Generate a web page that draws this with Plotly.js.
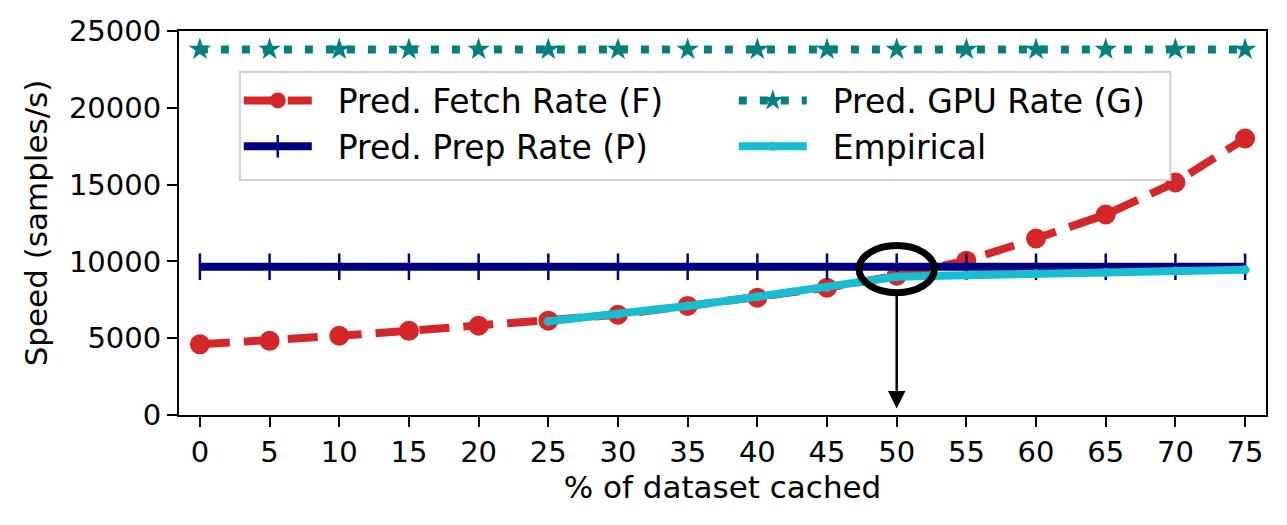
<!DOCTYPE html>
<html>
<head>
<meta charset="utf-8">
<script src="https://cdn.plot.ly/plotly-3.0.1.min.js"></script>
<style>
  html, body { margin: 0; padding: 0; background: #fff; }
  #chart { width: 1287px; height: 525px; }
</style>
</head>
<body>
<div id="chart"></div>
<script>
// data
const cached = [0, 5, 10, 15, 20, 25, 30, 35, 40, 45, 50, 55, 60, 65, 70, 75];
const fetchRate = [4600, 4830, 5160, 5480, 5810, 6140, 6530, 7100, 7640, 8290, 9070, 10050, 11490, 13050, 15140, 18000];
const prepRate = cached.map(() => 9650);
const gpuRate = cached.map(() => 23800);
const empiricalX = [25, 30, 35, 40, 45, 50, 55, 60, 65, 70, 75];
const empiricalY = [6100, 6550, 7100, 7700, 8300, 9000, 9100, 9200, 9280, 9370, 9450];
const xTicks = cached;
const yTicks = [0, 5000, 10000, 15000, 20000, 25000];

// crossover point marked in the figure
const crossX = 50;
const crossY = 9500;

const font = 'DejaVu Sans, sans-serif';
const pad = '\u00a0\u00a0'; // gap between legend line and label

const traces = [
  {
    x: cached, y: fetchRate, name: pad + 'Pred. Fetch Rate (F)', mode: 'lines+markers',
    line: { color: '#d62728', width: 8, dash: '30px,14px' },
    marker: { symbol: 'circle', size: 20, color: '#d62728' },
    legendrank: 1
  },
  {
    x: cached, y: gpuRate, name: pad + 'Pred. GPU Rate (G)', mode: 'lines+markers',
    line: { color: '#008080', width: 8, dash: '8px,13px' },
    marker: { symbol: 'star', size: 17, color: '#008080' },
    legendrank: 2
  },
  {
    x: cached, y: prepRate, name: pad + 'Pred. Prep Rate (P)', mode: 'lines+markers',
    line: { color: '#000080', width: 8 },
    marker: { symbol: 'line-ns', size: 19, line: { color: '#000080', width: 2.5 } },
    legendrank: 3
  },
  {
    x: empiricalX, y: empiricalY, name: pad + 'Empirical', mode: 'lines+markers',
    line: { color: '#17becf', width: 8 },
    marker: { symbol: 'circle', size: 9, color: '#17becf' },
    legendrank: 4
  }
];

const axisCommon = {
  showline: true, linecolor: '#000', linewidth: 2, mirror: true,
  ticks: 'outside', ticklen: 10, tickwidth: 2, tickcolor: '#000',
  showgrid: false, zeroline: false,
  tickfont: { family: font, size: 29, color: '#000' }
};

const layout = {
  width: 1287, height: 525,
  margin: { l: 179, r: 21, t: 31, b: 110 },
  paper_bgcolor: '#fff', plot_bgcolor: '#fff',
  font: { family: font, color: '#000' },
  showlegend: true,
  legend: {
    orientation: 'h', x: 0.055, y: 0.892, xanchor: 'left', yanchor: 'top',
    bgcolor: 'rgba(0,0,0,0)', borderwidth: 0,
    font: { family: font, size: 33, color: '#000' },
    itemwidth: 68, entrywidth: 412, entrywidthmode: 'pixels',
    tracegroupgap: 0, traceorder: 'normal'
  },
  xaxis: Object.assign({}, axisCommon, {
    range: [-1.5, 76.5], tickvals: xTicks, ticktext: xTicks.map(String),
    title: { text: '% of dataset cached', font: { family: font, size: 31, color: '#000' }, standoff: 6 }
  }),
  yaxis: Object.assign({}, axisCommon, {
    range: [0, 25000], tickvals: yTicks, ticktext: yTicks.map(String),
    title: { text: 'Speed (samples/s)', font: { family: font, size: 31, color: '#000' }, standoff: 12 }
  }),
  shapes: [
    // legend frame, drawn separately so it can be narrower than plotly's legend box
    {
      type: 'rect', xref: 'paper', yref: 'paper', layer: 'above',
      x0: 0.056, x1: 0.912, y0: 0.612, y1: 0.893,
      fillcolor: '#fff', line: { color: '#d0d0d0', width: 2 }
    },
    {
      type: 'circle', xref: 'x', yref: 'y',
      x0: crossX - 2.7, x1: crossX + 2.7, y0: crossY - 1540, y1: crossY + 1540,
      line: { color: '#000', width: 7 }
    }
  ],
  annotations: [
    {
      x: crossX, y: 430, ax: crossX, ay: crossY - 1540,
      xref: 'x', yref: 'y', axref: 'x', ayref: 'y',
      text: '', showarrow: true, arrowhead: 2, arrowsize: 1.4, arrowwidth: 2.5, arrowcolor: '#000'
    }
  ]
};

Plotly.newPlot('chart', traces, layout, { displayModeBar: false, staticPlot: true });
</script>
</body>
</html>
